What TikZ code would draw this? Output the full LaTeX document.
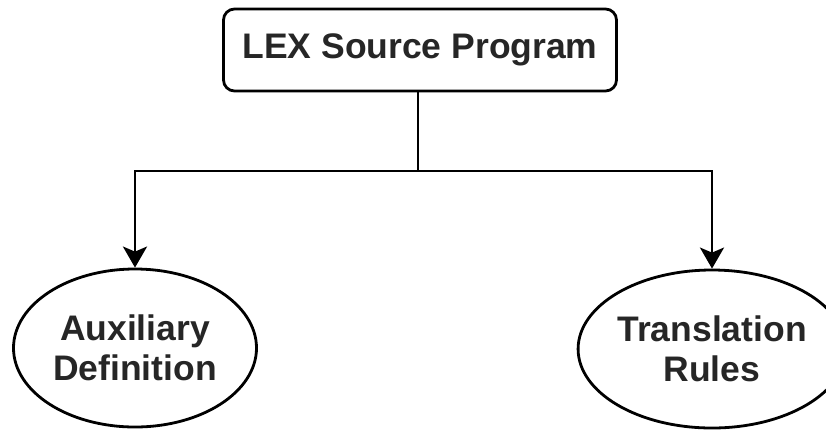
\documentclass[tikz,border=0pt]{standalone}
\usepackage{fontspec}
\setmainfont{Liberation Sans}
\usetikzlibrary{arrows.meta,shapes.geometric}
\begin{document}
\begin{tikzpicture}[x=1pt,y=-1pt,
  lbl/.style={font=\bfseries\fontsize{35.5}{40}\selectfont, align=center, text=black!85},
  rbox/.style={draw, line width=2.8pt, rounded corners=11pt, minimum width=393pt, minimum height=82pt, inner sep=0pt},
  oval/.style={draw, ellipse, line width=2.8pt, minimum width=243pt, minimum height=158pt, inner sep=0pt},
  conn/.style={line width=2.8pt, -{Stealth[length=21pt,width=24pt,inset=5pt]}}
]
\useasboundingbox (0,0) rectangle (826,432);
\node[rbox, lbl] (src) at (420,50) {LEX Source Program};
\node[oval, lbl] (aux) at (135,348) {Auxiliary\\Definition};
\node[oval, lbl] (tr) at (712,349) {Translation\\Rules};
\coordinate (j) at (418,171);
\draw[line width=2.8pt] (src.south -| j) -- (j);
\draw[conn] (j) -| (aux.north);
\draw[conn] (j) -| (tr.north);
\end{tikzpicture}
\end{document}
